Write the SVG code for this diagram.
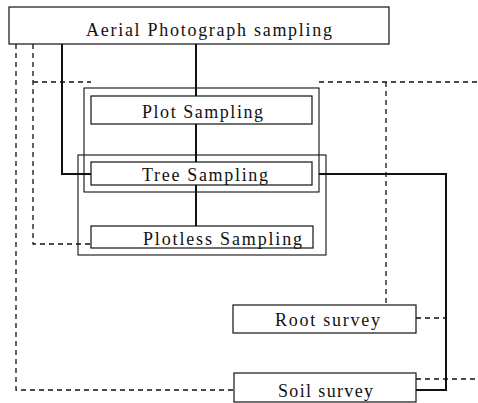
<svg xmlns="http://www.w3.org/2000/svg" width="478" height="403" viewBox="0 0 478 403">
<style>
.box{fill:#fff;stroke:#111;stroke-width:1.2}
.frame{fill:none;stroke:#111;stroke-width:1.1}
.solid{fill:none;stroke:#111;stroke-width:2}
.dash{fill:none;stroke:#111;stroke-width:1.3;stroke-dasharray:5 4}
text{font-family:"Liberation Serif","Times New Roman",serif;font-size:18px;fill:#111;text-anchor:start}
</style>
<rect width="478" height="403" fill="#fff"/>
<g id="connectors">
<path class="dash" d="M16,44 V390 H234"/>
<path class="dash" d="M33,44 V244 H91"/>
<path class="dash" d="M33,82 H91"/>
<path class="solid" d="M62,44 V174 H91"/>
<path class="solid" d="M196,44 V96"/>
<path class="solid" d="M196,124 V162"/>
<path class="solid" d="M196,185 V226"/>
<path class="dash" d="M319,82 H478"/>
<path class="dash" d="M386,82 V305"/>
<path class="solid" d="M319,174 H446 V390 H416"/>
<path class="dash" d="M416,318 H446"/>
<path class="dash" d="M416,379 H478"/>
</g>
<g id="frames">
<rect class="frame" x="84" y="88" width="235" height="104"/>
<rect class="frame" x="78" y="155" width="248" height="100"/>
</g>
<g id="aerial">
<rect class="box" x="9" y="7" width="380" height="37"/>
<text x="86" y="36" textLength="246" lengthAdjust="spacing">Aerial Photograph sampling</text>
</g>
<g id="plot">
<rect class="box" x="91" y="96" width="221" height="28"/>
<text x="142" y="118" textLength="121" lengthAdjust="spacing">Plot Sampling</text>
</g>
<g id="tree">
<rect class="box" x="91" y="162" width="221" height="23"/>
<text x="142" y="181" textLength="126" lengthAdjust="spacing">Tree Sampling</text>
</g>
<g id="plotless">
<rect class="box" x="91" y="226" width="222" height="22"/>
<text x="143" y="245" textLength="159" lengthAdjust="spacing">Plotless Sampling</text>
</g>
<g id="root">
<rect class="box" x="233" y="305" width="183" height="28"/>
<text x="275" y="326" textLength="105" lengthAdjust="spacing">Root survey</text>
</g>
<g id="soil">
<rect class="box" x="234" y="373" width="182" height="29"/>
<text x="278" y="397" textLength="95" lengthAdjust="spacing">Soil survey</text>
</g>
</svg>
